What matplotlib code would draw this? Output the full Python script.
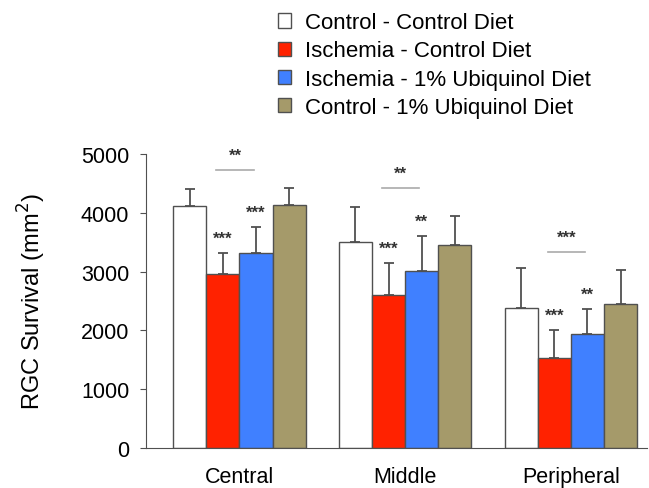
import matplotlib.pyplot as plt
import numpy as np

plt.rcParams['font.family'] = ['Liberation Sans', 'DejaVu Sans']

regions = ['Central', 'Middle', 'Peripheral']
groups = ['Control - Control Diet', 'Ischemia - Control Diet',
          'Ischemia - 1% Ubiquinol Diet', 'Control - 1% Ubiquinol Diet']
colors = ['#ffffff', '#ff2200', '#4080ff', '#a59a6a']

# mean survival per group, one value per region
ctrl_ctrl = [4115, 3500, 2380]
isch_ctrl = [2960, 2600, 1530]
isch_ubi = [3315, 3010, 1940]
ctrl_ubi = [4135, 3450, 2450]
means = [ctrl_ctrl, isch_ctrl, isch_ubi, ctrl_ubi]

# error bar (SD)
err_ctrl_ctrl = [290, 600, 680]
err_isch_ctrl = [355, 545, 475]
err_isch_ubi = [445, 595, 425]
err_ctrl_ubi = [290, 495, 580]
errs = [err_ctrl_ctrl, err_isch_ctrl, err_isch_ubi, err_ctrl_ubi]

# stars over single bars (vs control), group index 1 and 2
stars_isch_ctrl = ['***', '***', '***']
stars_isch_ubi = ['***', '**', '**']
# stars between the two ischemia groups
stars_between = ['**', '**', '***']
between_y = [4730, 4420, 3335]

fig = plt.figure(figsize=(6.49, 4.89), dpi=100)
ax = fig.add_axes([0.225, 0.082, 0.772, 0.601])

x = np.arange(len(regions))
w = 0.2
handles = []
for i in range(4):
    pos = x + (i - 1.5) * w
    b = ax.bar(pos, means[i], w, color=colors[i], edgecolor='#505050',
               linewidth=1.0, label=groups[i], zorder=2)
    ax.errorbar(pos, means[i], yerr=[np.zeros(3), errs[i]], fmt='none',
                ecolor='#505050', elinewidth=1.3, capsize=3.5, capthick=1.3, zorder=1)
    handles.append(b)

for j in range(3):
    for i, st in [(1, stars_isch_ctrl), (2, stars_isch_ubi)]:
        top = means[i][j] + errs[i][j]
        ax.text(x[j] + (i - 1.5) * w, top + 250, st[j], ha='center', va='center',
                fontsize=12, fontweight='bold', color='#333333')
    ax.plot([x[j] - 0.14, x[j] + 0.085], [between_y[j], between_y[j]],
            color='#aaaaaa', lw=1.2)
    ax.text(x[j] - 0.027, between_y[j] + 250, stars_between[j], ha='center',
            va='center', fontsize=12, fontweight='bold', color='#333333')

ax.set_xlim(-0.564, 2.46)
ax.set_ylim(0, 5000)
ax.set_yticks([0, 1000, 2000, 3000, 4000, 5000])
ax.set_xticks(x)
ax.set_xticklabels(regions, fontsize=15.5)
ax.tick_params(axis='x', length=0, pad=13)
ax.tick_params(axis='y', labelsize=15.5, length=4, color='#505050', pad=8)
ax.spines['top'].set_visible(False)
ax.spines['right'].set_visible(False)
ax.spines['left'].set_color('#505050')
ax.spines['bottom'].set_color('#505050')
ax.set_ylabel('RGC Survival (mm$^2$)', fontsize=17, labelpad=24)

fig.legend(handles=handles, labels=groups, loc='upper left',
           bbox_to_anchor=(0.408, 1.0), frameon=False, fontsize=16,
           handlelength=0.6, handleheight=0.6, handletextpad=0.6,
           labelspacing=0.32, borderaxespad=0.2)

fig.savefig('out.png', dpi=100)
